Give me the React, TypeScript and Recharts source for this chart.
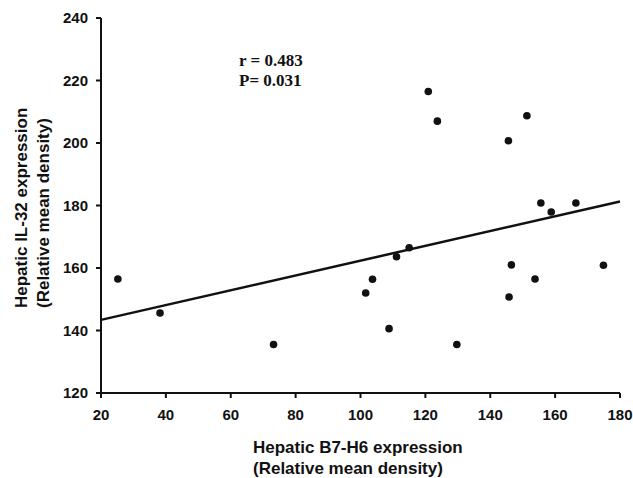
import { ReferenceLine, Scatter, ScatterChart, XAxis, YAxis, Customized } from "recharts";

// hepatic B7-H6 vs IL-32 (relative mean density), one point per sample
const b7h6 = [25.2, 38.2, 73.2, 101.6, 103.7, 108.8, 111.1, 115, 120.9, 123.7, 129.7, 145.6, 151.3, 145.8, 146.5, 153.8, 155.6, 158.8, 166.4, 174.9];
const il32 = [156.5, 145.6, 135.5, 152, 156.4, 140.6, 163.6, 166.5, 216.5, 207, 135.5, 200.7, 208.7, 150.7, 161, 156.5, 180.8, 177.9, 180.8, 160.9];

// fitted regression line endpoints
const fitX = [20, 180];
const fitY = [143.4, 181.3];

const xTicks = [20, 40, 60, 80, 100, 120, 140, 160, 180];
const yTicks = [120, 140, 160, 180, 200, 220, 240];

const points = b7h6.map((x, i) => ({ x, y: il32[i] }));

const sans = "'Liberation Sans', Arial, sans-serif";
const tickStyle = { fill: "#111", fontSize: 15, fontWeight: 700, fontFamily: sans };

function Titles() {
  return (
    <g fontFamily={sans} fontWeight={700} fontSize={17} fill="#111">
      <text x={253} y={453}>Hepatic B7-H6 expression</text>
      <text x={253} y={474}>(Relative mean density)</text>
      <text x={27} y={308} transform="rotate(-90 27 308)">Hepatic IL-32 expression</text>
      <text x={49} y={308} transform="rotate(-90 49 308)">(Relative mean density)</text>
      <g fontFamily="'Liberation Serif', 'Times New Roman', serif" fontSize={17}>
        <text x={239} y={66}>r = 0.483</text>
        <text x={239} y={86}>P= 0.031</text>
      </g>
    </g>
  );
}

export default function App() {
  return (
    <div style={{ position: "absolute", left: 0, top: 0, background: "#fff" }}>
      <ScatterChart width={633} height={478} margin={{ top: 18, right: 13, left: 0, bottom: 0 }}>
        <XAxis
          type="number"
          dataKey="x"
          domain={[20, 180]}
          ticks={xTicks}
          height={85}
          tick={tickStyle}
          tickSize={5}
          tickMargin={11}
          stroke="#111"
          strokeWidth={2}
        />
        <YAxis
          type="number"
          dataKey="y"
          domain={[120, 240]}
          ticks={yTicks}
          width={101}
          tick={tickStyle}
          tickSize={5}
          tickMargin={8}
          stroke="#111"
          strokeWidth={2}
        />
        <ReferenceLine
          segment={[
            { x: fitX[0], y: fitY[0] },
            { x: fitX[1], y: fitY[1] },
          ]}
          stroke="#111"
          strokeWidth={2.5}
        />
        <Scatter
          data={points}
          isAnimationActive={false}
          shape={(p: any) => <circle cx={p.cx} cy={p.cy} r={3.8} fill="#111" />}
        />
        <Customized component={Titles} />
      </ScatterChart>
    </div>
  );
}
